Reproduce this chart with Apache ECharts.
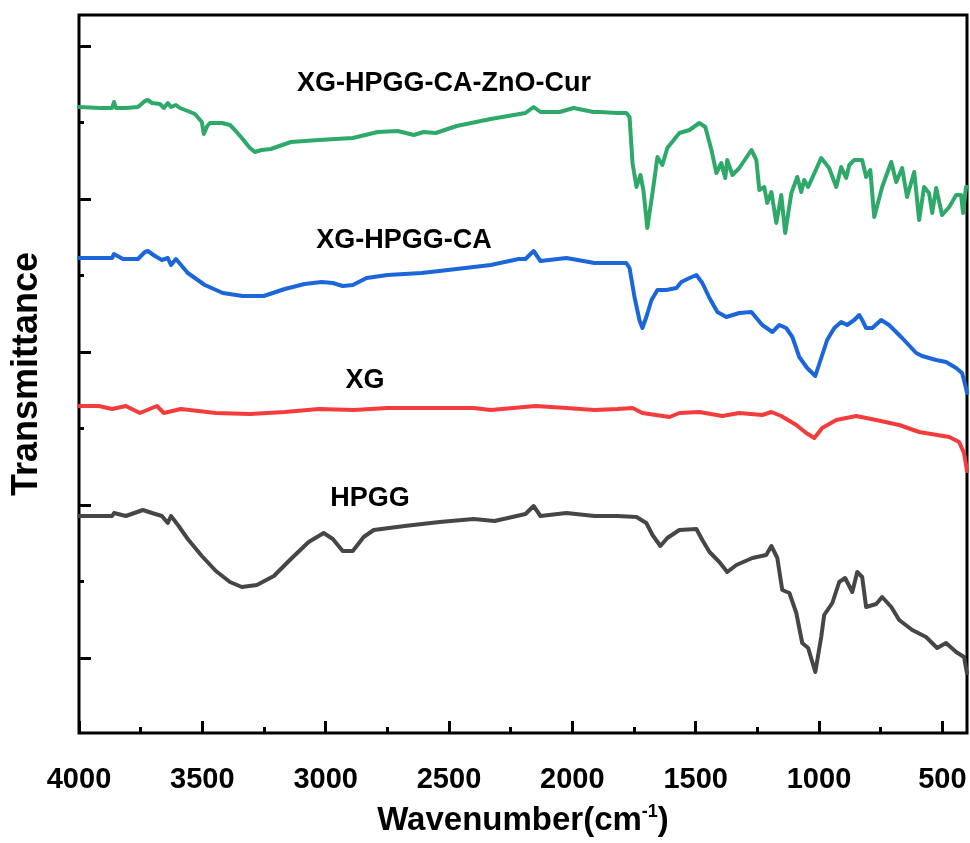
<!DOCTYPE html>
<html>
<head>
<meta charset="utf-8">
<title>FTIR</title>
<script src="https://cdn.jsdelivr.net/npm/echarts@6/dist/echarts.min.js"></script>
<style>
	html, body { margin: 0; padding: 0; background: #fff; }
	#ftirChartDiv { width: 970px; height: 843px; }
</style>
</head>
<body>
<div id="ftirChartDiv"></div>
<script>
//x axis ticks (cm-1)
var xMajorTicks = [500, 1000, 1500, 2000, 2500, 3000, 3500, 4000];
var xMinorTicks = [750, 1250, 1750, 2250, 2750, 3250, 3750];
//y axis ticks (a.u., no labels)
var yMajorTicks = [75, 228, 381, 534, 687];
var yMinorTicks = [152, 305, 458, 611];

//spectra: [wavenumber, transmittance a.u.]
var curData = [
	[4000,626],[3915,625],[3866,625],[3858,631],[3850,625],[3810,625],[3761,626],[3733,632],[3721,633],[3704,630],
	[3672,629],[3656,625],[3640,630],[3627,626],[3607,628],[3591,625],[3559,622],[3530,619],[3502,611],[3494,599],
	[3480,607],[3469,610],[3420,610],[3388,608],[3368,603],[3340,595],[3307,585],[3287,581],[3260,583],[3222,584],
	[3141,591],[3028,593],[2890,595],[2789,601],[2708,602],[2643,598],[2603,601],[2554,600],[2469,607],[2331,614],
	[2190,620],[2157,626],[2129,621],[2052,621],[1995,625],[1914,621],[1890,621],[1817,620],[1781,620],[1768,616],
	[1756,570],[1740,546],[1724,558],[1712,543],[1696,505],[1675,540],[1655,576],[1635,568],[1615,585],[1566,600],
	[1525,603],[1485,610],[1461,606],[1436,583],[1416,560],[1396,570],[1380,555],[1372,573],[1351,558],[1323,565],
	[1274,583],[1254,573],[1242,543],[1222,546],[1210,530],[1193,541],[1173,510],[1153,538],[1137,500],[1112,540],
	[1088,556],[1072,541],[1060,553],[1044,546],[991,575],[959,565],[930,546],[910,566],[890,555],[877,568],
	[857,573],[825,573],[809,556],[792,563],[776,516],[744,546],[707,571],[687,551],[663,565],[643,536],
	[614,561],[594,513],[574,546],[554,540],[541,520],[525,545],[501,518],[472,526],[444,538],[424,538],
	[416,520],[404,546],[400,546]
];
var caData = [
	[4000,475],[3915,475],[3866,475],[3858,479],[3822,474],[3761,474],[3733,481],[3721,482],[3692,477],[3664,473],
	[3640,475],[3627,468],[3607,474],[3559,460],[3490,448],[3417,440],[3336,437],[3251,437],[3166,444],[3085,449],
	[3016,451],[2971,450],[2931,447],[2890,448],[2834,455],[2749,458],[2611,460],[2469,464],[2331,468],[2218,474],
	[2190,474],[2157,482],[2129,472],[2024,475],[1910,470],[1817,470],[1781,470],[1768,465],[1748,436],[1728,413],
	[1716,405],[1700,416],[1679,433],[1655,443],[1619,443],[1578,445],[1558,451],[1525,455],[1497,458],[1473,450],
	[1444,435],[1412,421],[1376,416],[1323,420],[1274,421],[1230,408],[1189,401],[1161,408],[1133,405],[1108,396],
	[1080,376],[1048,365],[1015,357],[991,375],[967,393],[938,405],[910,411],[886,408],[857,413],[837,418],
	[825,413],[809,405],[784,405],[748,413],[716,408],[663,395],[606,380],[582,377],[525,373],[485,371],
	[444,365],[420,360],[404,345],[400,340]
];
var xgData = [
	[4000,327],[3919,327],[3866,324],[3810,327],[3753,320],[3684,327],[3656,320],[3587,324],[3445,320],[3307,319],
	[3166,321],[3028,324],[2886,323],[2749,325],[2611,325],[2400,325],[2331,323],[2149,327],[2024,325],[1910,323],
	[1817,324],[1756,325],[1716,320],[1606,316],[1566,320],[1485,321],[1392,317],[1323,320],[1230,318],[1193,321],
	[1153,317],[1092,308],[1052,300],[1019,295],[987,305],[930,313],[849,317],[768,313],[675,308],[594,301],
	[472,296],[432,291],[412,280],[404,268],[400,262]
];
var hpggData = [
	[4000,217],[3866,217],[3858,220],[3810,217],[3741,223],[3704,220],[3664,217],[3640,210],[3627,217],[3599,208],
	[3559,194],[3502,177],[3445,162],[3388,151],[3340,146],[3279,148],[3210,157],[3141,174],[3069,191],[3008,200],
	[2971,194],[2931,182],[2890,182],[2846,196],[2805,203],[2680,207],[2538,211],[2400,214],[2315,212],[2190,219],
	[2157,227],[2129,217],[2024,220],[1910,217],[1817,217],[1740,216],[1700,210],[1675,198],[1643,187],[1615,195],
	[1566,203],[1497,204],[1473,193],[1444,181],[1404,171],[1372,161],[1335,168],[1270,175],[1214,178],[1193,187],
	[1169,175],[1149,143],[1120,140],[1092,120],[1068,90],[1044,85],[1015,61],[991,96],[979,118],[946,130],
	[918,151],[894,155],[865,141],[845,161],[825,156],[809,126],[768,129],[744,136],[707,126],[675,113],
	[622,103],[566,96],[521,85],[485,90],[444,81],[412,76],[404,65],[400,60]
];

var seriesNames = ['XG-HPGG-CA-ZnO-Cur', 'XG-HPGG-CA', 'XG', 'HPGG'];
var seriesColors = ['#2EA96A', '#1B66D8', '#F43C3C', '#464646'];

function makeSeries(name, color, data)
{
	return {
		name: name,
		type: 'line',
		showSymbol: false,
		symbol: 'none',
		data: data,
		lineStyle: { color: color, width: 4, join: 'round', cap: 'round' },
		animation: false
	};
}

function makeLabel(text, x, y)
{
	return {
		type: 'text',
		x: x,
		y: y,
		z: 100,
		style: {
			text: text,
			fill: '#000',
			fontSize: 27,
			fontWeight: 'bold',
			fontFamily: 'Liberation Sans, Arial, sans-serif',
			align: 'center',
			verticalAlign: 'middle'
		}
	};
}

function generateFtirChart()
{
	var chart = echarts.init(document.getElementById('ftirChartDiv'));
	var tickStyle = { color: '#000', width: 3 };
	var font = 'Liberation Sans, Arial, sans-serif';
	var option = {
		backgroundColor: '#fff',
		animation: false,
		grid: {
			left: 79, right: 3, top: 15, bottom: 110,
			outerBoundsMode: 'none',
			show: true, borderColor: '#000', borderWidth: 3,
			backgroundColor: 'transparent'
		},
		xAxis: [{
			type: 'value', inverse: true, min: 400, max: 4000,
			name: '{t|Wavenumber(cm}{s|-1}{t|)}',
			nameLocation: 'middle', nameGap: 70,
			nameTextStyle: {
				rich: {
					t: { fontSize: 33, fontWeight: 'bold', fontFamily: font, color: '#000' },
					s: { fontSize: 18, fontWeight: 'bold', fontFamily: font, color: '#000', padding: [0, 0, 18, 0] }
				}
			},
			axisLine: { show: false },
			axisTick: { inside: true, length: 12, customValues: xMajorTicks, lineStyle: tickStyle },
			axisLabel: {
				customValues: xMajorTicks, margin: 32,
				fontSize: 29, fontWeight: 'bold', fontFamily: font, color: '#000',
				formatter: function(v) { return String(v); }
			},
			splitLine: { show: false }
		}, {
			type: 'value', inverse: true, min: 400, max: 4000, position: 'bottom',
			axisLine: { show: false },
			axisTick: { inside: true, length: 6, customValues: xMinorTicks, lineStyle: tickStyle },
			axisLabel: { show: false },
			splitLine: { show: false }
		}],
		yAxis: [{
			type: 'value', min: 0, max: 718,
			name: 'Transmittance',
			nameLocation: 'middle', nameGap: 34,
			nameTextStyle: { fontSize: 36, fontWeight: 'bold', fontFamily: font, color: '#000' },
			axisLine: { show: false },
			axisTick: { inside: true, length: 12, customValues: yMajorTicks, lineStyle: tickStyle },
			axisLabel: { show: false },
			splitLine: { show: false }
		}, {
			type: 'value', min: 0, max: 718, position: 'left',
			axisLine: { show: false },
			axisTick: { inside: true, length: 5, customValues: yMinorTicks, lineStyle: tickStyle },
			axisLabel: { show: false },
			splitLine: { show: false }
		}],
		series: [
			makeSeries(seriesNames[3], seriesColors[3], hpggData),
			makeSeries(seriesNames[2], seriesColors[2], xgData),
			makeSeries(seriesNames[1], seriesColors[1], caData),
			makeSeries(seriesNames[0], seriesColors[0], curData)
		]
	};
	chart.setOption(option);

	//sample names, added after the axes are laid out
	chart.setOption({
		graphic: [
			makeLabel(seriesNames[0], 444, 84),
			makeLabel(seriesNames[1], 404, 241),
			makeLabel(seriesNames[2], 365, 381),
			makeLabel(seriesNames[3], 370, 499)
		]
	});
}

generateFtirChart();
</script>
</body>
</html>
